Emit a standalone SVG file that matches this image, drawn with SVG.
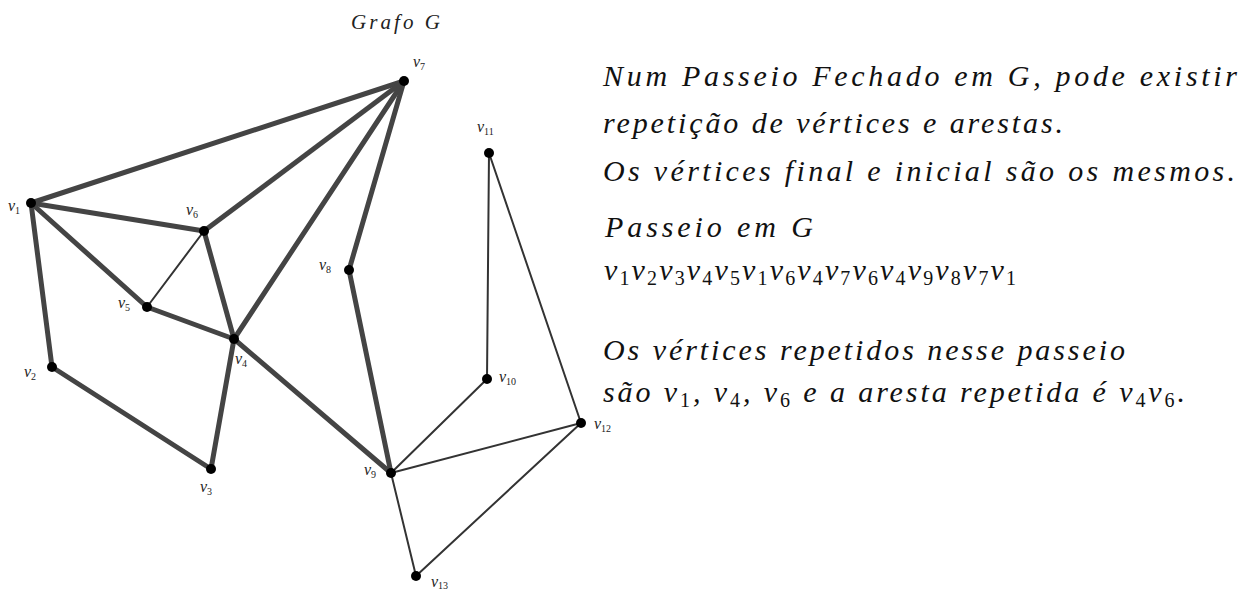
<svg xmlns="http://www.w3.org/2000/svg" width="1245" height="590" viewBox="0 0 1245 590">
  <style>
    .thick { stroke: #444444; stroke-width: 5; stroke-linecap: round; fill: none; }
    .thin { stroke: #333333; stroke-width: 2; stroke-linecap: round; fill: none; }
    .dot { fill: #000000; }
  </style>
  <rect x="0" y="0" width="1245" height="590" fill="#ffffff"/>

  <text x="351" y="29" font-family="'Liberation Serif', serif" font-style="italic" font-size="21" fill="#222222" textLength="89" lengthAdjust="spacing">Grafo G</text>

  <!-- edges: thick ones belong to the closed walk, thin ones are the rest of G -->
  <g id="connectors">
    <line class="thick" x1="31" y1="203" x2="404" y2="81"/>
    <line class="thick" x1="31" y1="203" x2="204" y2="231"/>
    <line class="thick" x1="31" y1="203" x2="147" y2="307"/>
    <line class="thick" x1="31" y1="203" x2="52" y2="367"/>
    <line class="thick" x1="52" y1="367" x2="211" y2="469"/>
    <line class="thick" x1="211" y1="469" x2="234" y2="339"/>
    <line class="thick" x1="147" y1="307" x2="234" y2="339"/>
    <line class="thick" x1="204" y1="231" x2="234" y2="339"/>
    <line class="thick" x1="204" y1="231" x2="404" y2="81"/>
    <line class="thick" x1="234" y1="339" x2="404" y2="81"/>
    <line class="thick" x1="404" y1="81" x2="349" y2="270"/>
    <line class="thick" x1="349" y1="270" x2="391" y2="473"/>
    <line class="thick" x1="234" y1="339" x2="391" y2="473"/>
    <line class="thin" x1="147" y1="307" x2="204" y2="231"/>
    <line class="thin" x1="391" y1="473" x2="487" y2="379"/>
    <line class="thin" x1="487" y1="379" x2="489" y2="153"/>
    <line class="thin" x1="489" y1="153" x2="581" y2="423"/>
    <line class="thin" x1="391" y1="473" x2="581" y2="423"/>
    <line class="thin" x1="391" y1="473" x2="416" y2="576"/>
    <line class="thin" x1="416" y1="576" x2="581" y2="423"/>
  </g>

  <!-- vertices -->
  <g font-family="'Liberation Serif', serif" font-style="italic" font-size="16" fill="#222222">
    <g id="v1"><circle class="dot" cx="31" cy="203" r="5"/><text x="8" y="211">v<tspan font-style="normal" font-size="10" dy="3">1</tspan></text></g>
    <g id="v2"><circle class="dot" cx="52" cy="367" r="5"/><text x="24" y="377">v<tspan font-style="normal" font-size="10" dy="3">2</tspan></text></g>
    <g id="v3"><circle class="dot" cx="211" cy="469" r="5"/><text x="200" y="492">v<tspan font-style="normal" font-size="10" dy="3">3</tspan></text></g>
    <g id="v4"><circle class="dot" cx="234" cy="339" r="5"/><text x="235" y="364">v<tspan font-style="normal" font-size="10" dy="3">4</tspan></text></g>
    <g id="v5"><circle class="dot" cx="147" cy="307" r="5"/><text x="118" y="308">v<tspan font-style="normal" font-size="10" dy="3">5</tspan></text></g>
    <g id="v6"><circle class="dot" cx="204" cy="231" r="5"/><text x="186" y="215">v<tspan font-style="normal" font-size="10" dy="3">6</tspan></text></g>
    <g id="v7"><circle class="dot" cx="404" cy="81" r="5"/><text x="413" y="67">v<tspan font-style="normal" font-size="10" dy="3">7</tspan></text></g>
    <g id="v8"><circle class="dot" cx="349" cy="270" r="5"/><text x="319" y="270">v<tspan font-style="normal" font-size="10" dy="3">8</tspan></text></g>
    <g id="v9"><circle class="dot" cx="391" cy="473" r="5"/><text x="364" y="475">v<tspan font-style="normal" font-size="10" dy="3">9</tspan></text></g>
    <g id="v10"><circle class="dot" cx="487" cy="379" r="5"/><text x="499" y="382">v<tspan font-style="normal" font-size="10" dy="3">10</tspan></text></g>
    <g id="v11"><circle class="dot" cx="489" cy="153" r="5"/><text x="477" y="132">v<tspan font-style="normal" font-size="10" dy="3">11</tspan></text></g>
    <g id="v12"><circle class="dot" cx="581" cy="423" r="5"/><text x="594" y="429">v<tspan font-style="normal" font-size="10" dy="3">12</tspan></text></g>
    <g id="v13"><circle class="dot" cx="416" cy="576" r="5"/><text x="431" y="587">v<tspan font-style="normal" font-size="10" dy="2">13</tspan></text></g>
  </g>

  <!-- explanatory text -->
  <g id="description" font-family="'Liberation Serif', serif" font-style="italic" font-size="30" fill="#111111">
    <text x="603" y="86" textLength="634" lengthAdjust="spacing">Num Passeio Fechado em G, pode existir</text>
    <text x="603" y="133" textLength="460" lengthAdjust="spacing">repetição de vértices e arestas.</text>
    <text x="603" y="181" textLength="632" lengthAdjust="spacing">Os vértices final e inicial são os mesmos.</text>
    <text x="605" y="237" textLength="208" lengthAdjust="spacing">Passeio em G</text>
    <text x="604" y="280" textLength="412" lengthAdjust="spacing">v<tspan font-style="normal" font-size="20" dy="5">1</tspan><tspan dy="-5">v</tspan><tspan font-style="normal" font-size="20" dy="5">2</tspan><tspan dy="-5">v</tspan><tspan font-style="normal" font-size="20" dy="5">3</tspan><tspan dy="-5">v</tspan><tspan font-style="normal" font-size="20" dy="5">4</tspan><tspan dy="-5">v</tspan><tspan font-style="normal" font-size="20" dy="5">5</tspan><tspan dy="-5">v</tspan><tspan font-style="normal" font-size="20" dy="5">1</tspan><tspan dy="-5">v</tspan><tspan font-style="normal" font-size="20" dy="5">6</tspan><tspan dy="-5">v</tspan><tspan font-style="normal" font-size="20" dy="5">4</tspan><tspan dy="-5">v</tspan><tspan font-style="normal" font-size="20" dy="5">7</tspan><tspan dy="-5">v</tspan><tspan font-style="normal" font-size="20" dy="5">6</tspan><tspan dy="-5">v</tspan><tspan font-style="normal" font-size="20" dy="5">4</tspan><tspan dy="-5">v</tspan><tspan font-style="normal" font-size="20" dy="5">9</tspan><tspan dy="-5">v</tspan><tspan font-style="normal" font-size="20" dy="5">8</tspan><tspan dy="-5">v</tspan><tspan font-style="normal" font-size="20" dy="5">7</tspan><tspan dy="-5">v</tspan><tspan font-style="normal" font-size="20" dy="5">1</tspan></text>
    <text x="603" y="360" textLength="522" lengthAdjust="spacing">Os vértices repetidos nesse passeio</text>
    <text x="603" y="402" textLength="582" lengthAdjust="spacing">são v<tspan font-style="normal" font-size="20" dy="5">1</tspan><tspan dy="-5">, v</tspan><tspan font-style="normal" font-size="20" dy="5">4</tspan><tspan dy="-5">, v</tspan><tspan font-style="normal" font-size="20" dy="5">6</tspan><tspan dy="-5"> e a aresta repetida é v</tspan><tspan font-style="normal" font-size="20" dy="5">4</tspan><tspan dy="-5">v</tspan><tspan font-style="normal" font-size="20" dy="5">6</tspan><tspan dy="-5">.</tspan></text>
  </g>
</svg>
